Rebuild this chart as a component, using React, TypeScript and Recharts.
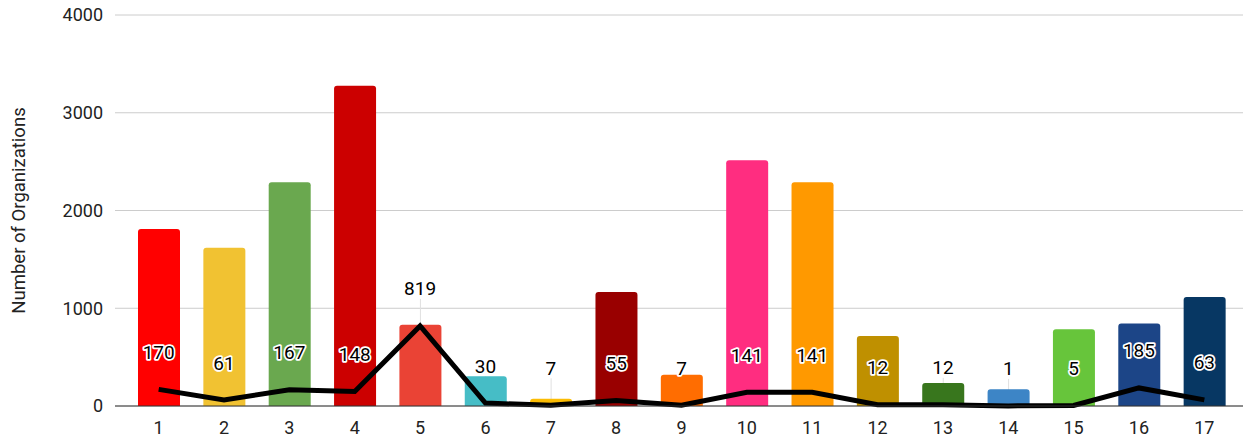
import React from "react";
import { Bar, CartesianGrid, Cell, ComposedChart, Line, Rectangle, XAxis, YAxis } from "recharts";

const categories = ["1", "2", "3", "4", "5", "6", "7", "8", "9", "10", "11", "12", "13", "14", "15", "16", "17"];
const organizations = [1810, 1620, 2290, 3275, 830, 305, 75, 1165, 320, 2515, 2290, 715, 235, 172, 785, 845, 1115];
const lineValues = [170, 61, 167, 148, 819, 30, 7, 55, 7, 141, 141, 12, 12, 1, 5, 185, 63];
const barColors = [
  "#ff0000", "#f1c232", "#6aa84f", "#cc0000", "#ea4335", "#46bdc6", "#fbbc04", "#990000", "#ff6d01",
  "#ff2d80", "#ff9900", "#bf9000", "#38761d", "#3d85c6", "#67c53b", "#1c4587", "#073763",
];
const yTicks = [0, 1000, 2000, 3000, 4000];

const data = categories.map((name, i) => ({
  name,
  orgs: organizations[i],
  line: lineValues[i],
}));

const font = "Roboto, sans-serif";

// bar with the thin gray leader of the line label drawn behind it
const BarWithLeader = (props: any) => {
  const { x, y, width, height, payload } = props;
  const bottom = y + height;
  const pointY = bottom - (payload.line * height) / payload.orgs;
  const cx = x + width / 2;
  return (
    <g>
      <line x1={cx} y1={pointY - 27} x2={cx} y2={pointY} stroke="#e0e0e0" strokeWidth={1} />
      <Rectangle {...props} />
    </g>
  );
};

const LineLabel = (props: any) => {
  const { x, y, value } = props;
  if (x == null || y == null) return null;
  return (
    <text
      x={x}
      y={y - 37}
      textAnchor="middle"
      dominantBaseline="central"
      fontFamily={font}
      fontSize={19}
      fill="#000"
      stroke="#fff"
      strokeWidth={3.5}
      paintOrder="stroke"
      strokeLinejoin="round"
    >
      {value}
    </text>
  );
};

export default function App() {
  return (
    <div style={{ position: "absolute", left: 0, top: 0, background: "#fff" }}>
      <ComposedChart width={1243} height={440} data={data} margin={{ top: 15, right: 0, bottom: 0, left: 0 }}>
        <CartesianGrid vertical={false} stroke="#cccccc" />
        <XAxis
          dataKey="name"
          padding={{ left: 11, right: 6 }}
          axisLine={{ stroke: "#333333" }}
          tickLine={false}
          tickMargin={9}
          height={34}
          interval={0}
          tick={{ fill: "#222", fontFamily: font, fontSize: 18 }}
        />
        <YAxis
          width={115}
          domain={[0, 4000]}
          ticks={yTicks}
          axisLine={false}
          tickLine={false}
          tickSize={0}
          tickMargin={12}
          tick={{ fill: "#222", fontFamily: font, fontSize: 18 }}
          label={{
            value: "Number of Organizations",
            angle: -90,
            position: "insideLeft",
            dx: 13,
            style: { textAnchor: "middle", fill: "#222", fontFamily: font, fontSize: 18.5 },
          }}
        />
        <Bar dataKey="orgs" barSize={42} radius={[3, 3, 0, 0]} shape={<BarWithLeader />} isAnimationActive={false}>
          {data.map((_, i) => (
            <Cell key={i} fill={barColors[i]} />
          ))}
        </Bar>
        <Line
          type="linear"
          dataKey="line"
          stroke="#000"
          strokeWidth={5}
          dot={false}
          activeDot={false}
          isAnimationActive={false}
          label={<LineLabel />}
        />
      </ComposedChart>
    </div>
  );
}
